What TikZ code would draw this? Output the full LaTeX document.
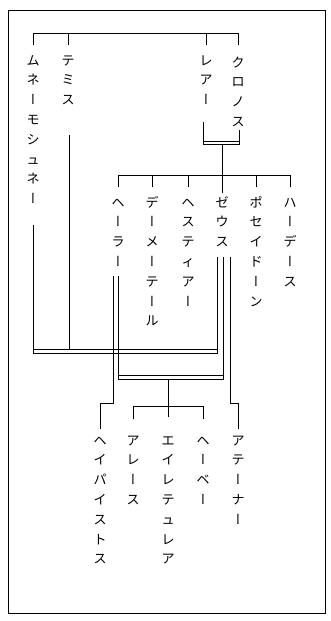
\documentclass[tikz,border=0pt]{standalone}
\usepackage{fontspec}
\newfontfamily\jp{Noto Sans CJK JP}
\newfontfamily\jpv[RawFeature=+vert]{Noto Sans CJK JP}
\newcommand\vb{{\jpv ー}}
\begin{document}
\begin{tikzpicture}[x=1pt,y=-1pt,
  nm/.style={anchor=north,inner sep=0pt,align=center,font=\jp\fontsize{13}{19.8}\selectfont},
  ln/.style={line width=0.8pt,line cap=rect,line join=miter}]
\useasboundingbox (0,0) rectangle (331,621);
\fill[white] (0,0) rectangle (331,621);
\draw[ln] (8,10) rectangle (325,613);
% names
\node[nm] (mn) at (33,51) {\strut ム\\ネ\\\vb\\モ\\シ\\ュ\\ネ\\\vb};
\node[nm] (th) at (68,51) {\strut テ\\ミ\\ス};
\node[nm] (rh) at (206,51) {\strut レ\\ア\\\vb};
\node[nm] (kr) at (238,53) {\strut ク\\ロ\\ノ\\ス};
\node[nm] (he) at (118,193) {\strut ヘ\\\vb\\ラ\\\vb};
\node[nm] (de) at (152,193) {\strut デ\\\vb\\メ\\\vb\\テ\\\vb\\ル};
\node[nm] (hs) at (188,193) {\strut ヘ\\ス\\テ\\ィ\\ア\\\vb};
\node[nm] (ze) at (222,193) {\strut ゼ\\ウ\\ス};
\node[nm] (po) at (256,193) {\strut ポ\\セ\\イ\\ド\\\vb\\ン};
\node[nm] (ha) at (290,193) {\strut ハ\\\vb\\デ\\\vb\\ス};
\node[nm] (hp) at (100,431) {\strut ヘ\\イ\\パ\\イ\\ス\\ト\\ス};
\node[nm] (ar) at (133,431) {\strut ア\\レ\\\vb\\ス};
\node[nm] (ei) at (168,431) {\strut エ\\イ\\レ\\テ\\ュ\\レ\\ア};
\node[nm] (hb) at (203,431) {\strut ヘ\\\vb\\ベ\\\vb};
\node[nm] (at) at (238,431) {\strut ア\\テ\\\vb\\ナ\\\vb};
% coordinates
\coordinate (topL) at (33,33);
\coordinate (topR) at (238,33);
\coordinate (rhB) at (203,122);
\coordinate (krB) at (239,130);
\coordinate (thB) at (69,135);
\coordinate (mnB) at (33,225);
\coordinate (chL) at (118,175);
\coordinate (chR) at (290,175);
\coordinate (zeA) at (217,257);
\coordinate (zeB) at (223,257);
\coordinate (zeC) at (230,257);
\coordinate (heA) at (113,276);
\coordinate (heB) at (118,276);
\coordinate (chL2) at (133,406);
\coordinate (chR2) at (203,406);
% top generation
\draw[ln,shorten >=6pt] (topL) -- (mn.north);
\draw[ln] (topL) -- (topR);
\draw[ln,shorten >=8pt] (topR) -- (kr.north);
\draw[ln,shorten >=6pt] (th.north |- topL) -- (th.north);
\draw[ln,shorten >=6pt] (rh.north |- topL) -- (rh.north);
% Kronos = Rhea
\draw[ln] (rhB) -- (203,144) -- (239,144) -- (krB);
\draw[ln] (203,141) -- (239,141);
\draw[ln] (222,144) -- (ze.north);
\draw[ln,shorten >=6pt] (chL) -- (he.north);
\draw[ln] (chL) -- (chR);
\draw[ln,shorten >=6pt] (chR) -- (ha.north);
\draw[ln,shorten >=6pt] (de.north |- chL) -- (de.north);
\draw[ln,shorten >=6pt] (hs.north |- chL) -- (hs.north);
\draw[ln,shorten >=6pt] (po.north |- chL) -- (po.north);
% Zeus = Mnemosyne, Themis
\draw[ln] (mnB) -- (33,353) -- (217,353) -- (zeA);
\draw[ln] (thB) -- (69,349);
\draw[ln] (33,349) -- (217,349);
% Zeus = Hera
\draw[ln] (heB) -- (118,379) -- (223,379) -- (zeB);
\draw[ln] (118,375) -- (223,375);
\draw[ln] (168,379) -- (168,406);
\draw[ln,shorten >=12pt] (chL2) -- (ar.north);
\draw[ln] (chL2) -- (chR2);
\draw[ln,shorten >=12pt] (chR2) -- (hb.north);
\draw[ln,shorten >=14pt] (168,406) -- (ei.north);
% Hephaistos, Athena
\draw[ln,shorten >=2pt] (heA) |- (100,403) -- (hp.north);
\draw[ln,shorten >=2pt] (zeC) |- (238,403) -- (at.north);
\end{tikzpicture}
\end{document}
